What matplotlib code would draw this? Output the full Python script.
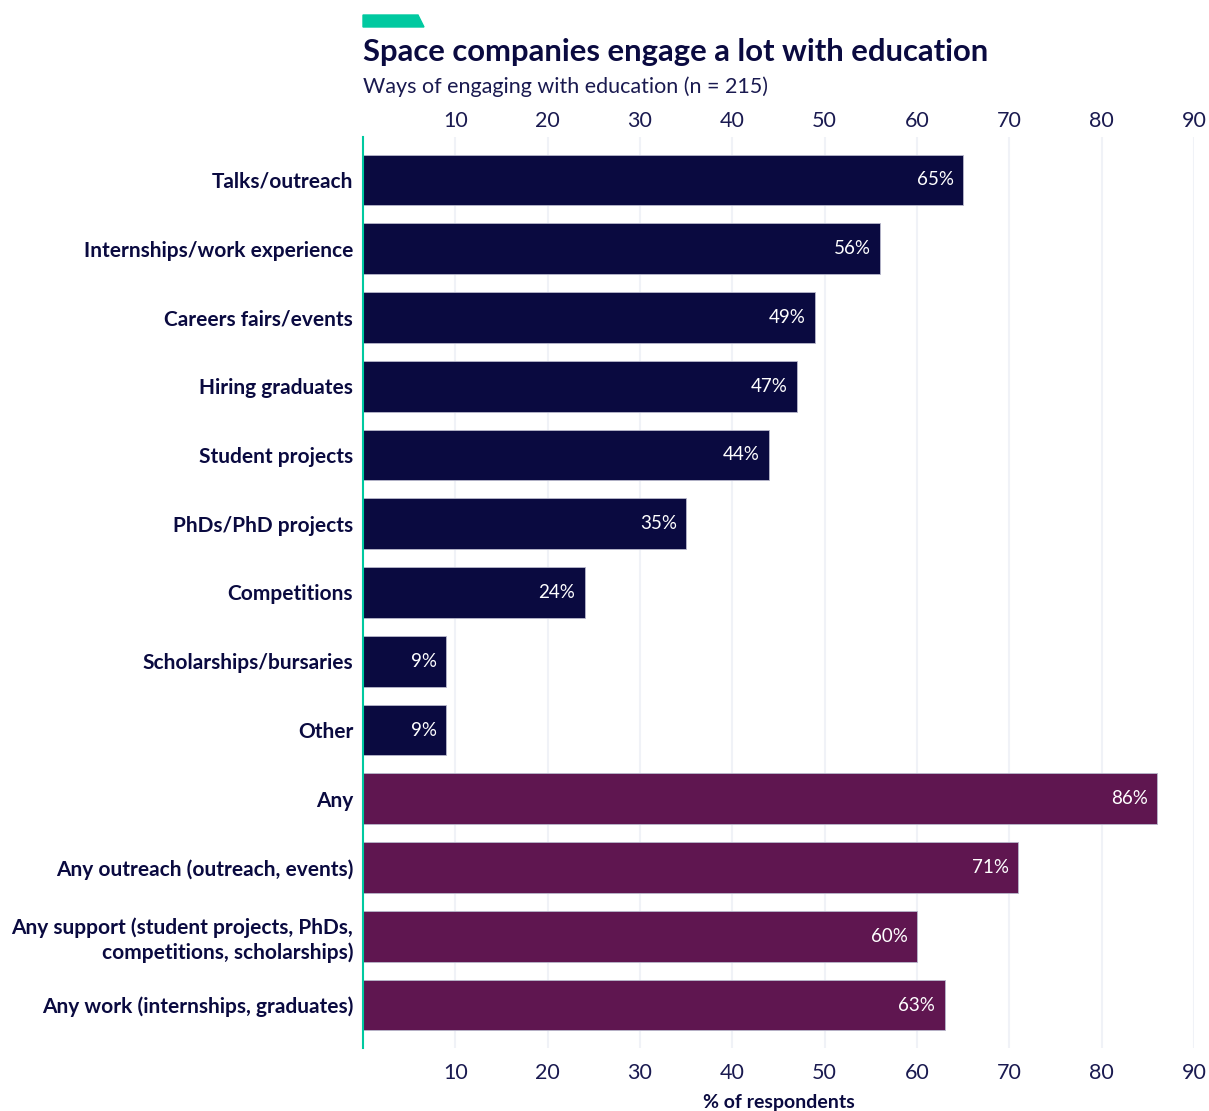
import matplotlib.pyplot as plt
from matplotlib.patches import Polygon

categories = [
    "Talks/outreach",
    "Internships/work experience",
    "Careers fairs/events",
    "Hiring graduates",
    "Student projects",
    "PhDs/PhD projects",
    "Competitions",
    "Scholarships/bursaries",
    "Other",
    "Any",
    "Any outreach (outreach, events)",
    "Any support (student projects, PhDs,\ncompetitions, scholarships)",
    "Any work (internships, graduates)",
]
values = [65, 56, 49, 47, 44, 35, 24, 9, 9, 86, 71, 60, 63]
groups = ["item"] * 9 + ["any"] * 4
ticks = [10, 20, 30, 40, 50, 60, 70, 80, 90]

NAVY = "#0a0a40"
PURPLE = "#5f1650"
GREEN = "#00c9a0"
colors = {"item": NAVY, "any": PURPLE}

plt.rcParams['font.family'] = ['Lato', 'DejaVu Sans']

fig = plt.figure(figsize=(12.09, 11.11), dpi=100)
ax = fig.add_axes([0.3002, 0.0567, 0.6873, 0.82])

ypos = list(range(len(categories)))
bars = ax.barh(ypos, values, height=0.74,
               color=[colors[g] for g in groups],
               edgecolor="#b8b8cc", linewidth=0.6, zorder=3)

for y, v in zip(ypos, values):
    ax.text(v - 1.0, y, f"{v}%", ha="right", va="center",
            color="white", fontsize=13.5, zorder=4)

ax.set_xlim(0, 90)
ax.set_ylim(len(categories) - 1 + 0.625, -0.625)
ax.set_yticks(ypos)
ax.set_yticklabels(categories, fontsize=15, fontweight="bold",
                   color=NAVY, ha="right", multialignment="right",
                   linespacing=1.25)
ax.set_xticks(ticks)
ax.tick_params(axis="x", length=0, pad=11,
               labelsize=15.5, labelcolor="#1a1a50")
ax.tick_params(axis="y", length=0, pad=7)
ax.grid(axis="x", color="#f0f2f7", linewidth=1.5, zorder=0)

# same scale repeated along the top
top = ax.secondary_xaxis("top")
top.set_xticks(ticks)
top.tick_params(length=0, pad=4, labelsize=15.5, labelcolor="#1a1a50")
top.spines["top"].set_visible(False)

for s in ["top", "right", "bottom"]:
    ax.spines[s].set_visible(False)
ax.spines["left"].set_color(GREEN)
ax.spines["left"].set_linewidth(1.5)
ax.spines["left"].set_zorder(5)

ax.set_xlabel("% of respondents", fontsize=14, fontweight="bold",
              color=NAVY, labelpad=8)

# title block
fig.text(0.3002, 0.953, "Space companies engage a lot with education",
         fontsize=22.3, fontweight="bold", color=NAVY, ha="left", va="center")
fig.text(0.3002, 0.922, "Ways of engaging with education (n = 215)",
         fontsize=15.5, color="#1a1a50", ha="left", va="center")

# green accent tab above the title
W, H = 1209, 1111
tab = Polygon([(363 / W, 1 - 15 / H), (418 / W, 1 - 15 / H),
               (424 / W, 1 - 27 / H), (363 / W, 1 - 27 / H)],
              closed=True, transform=fig.transFigure, color=GREEN)
fig.patches.append(tab)

fig.savefig("out.png", dpi=100, facecolor="white")
